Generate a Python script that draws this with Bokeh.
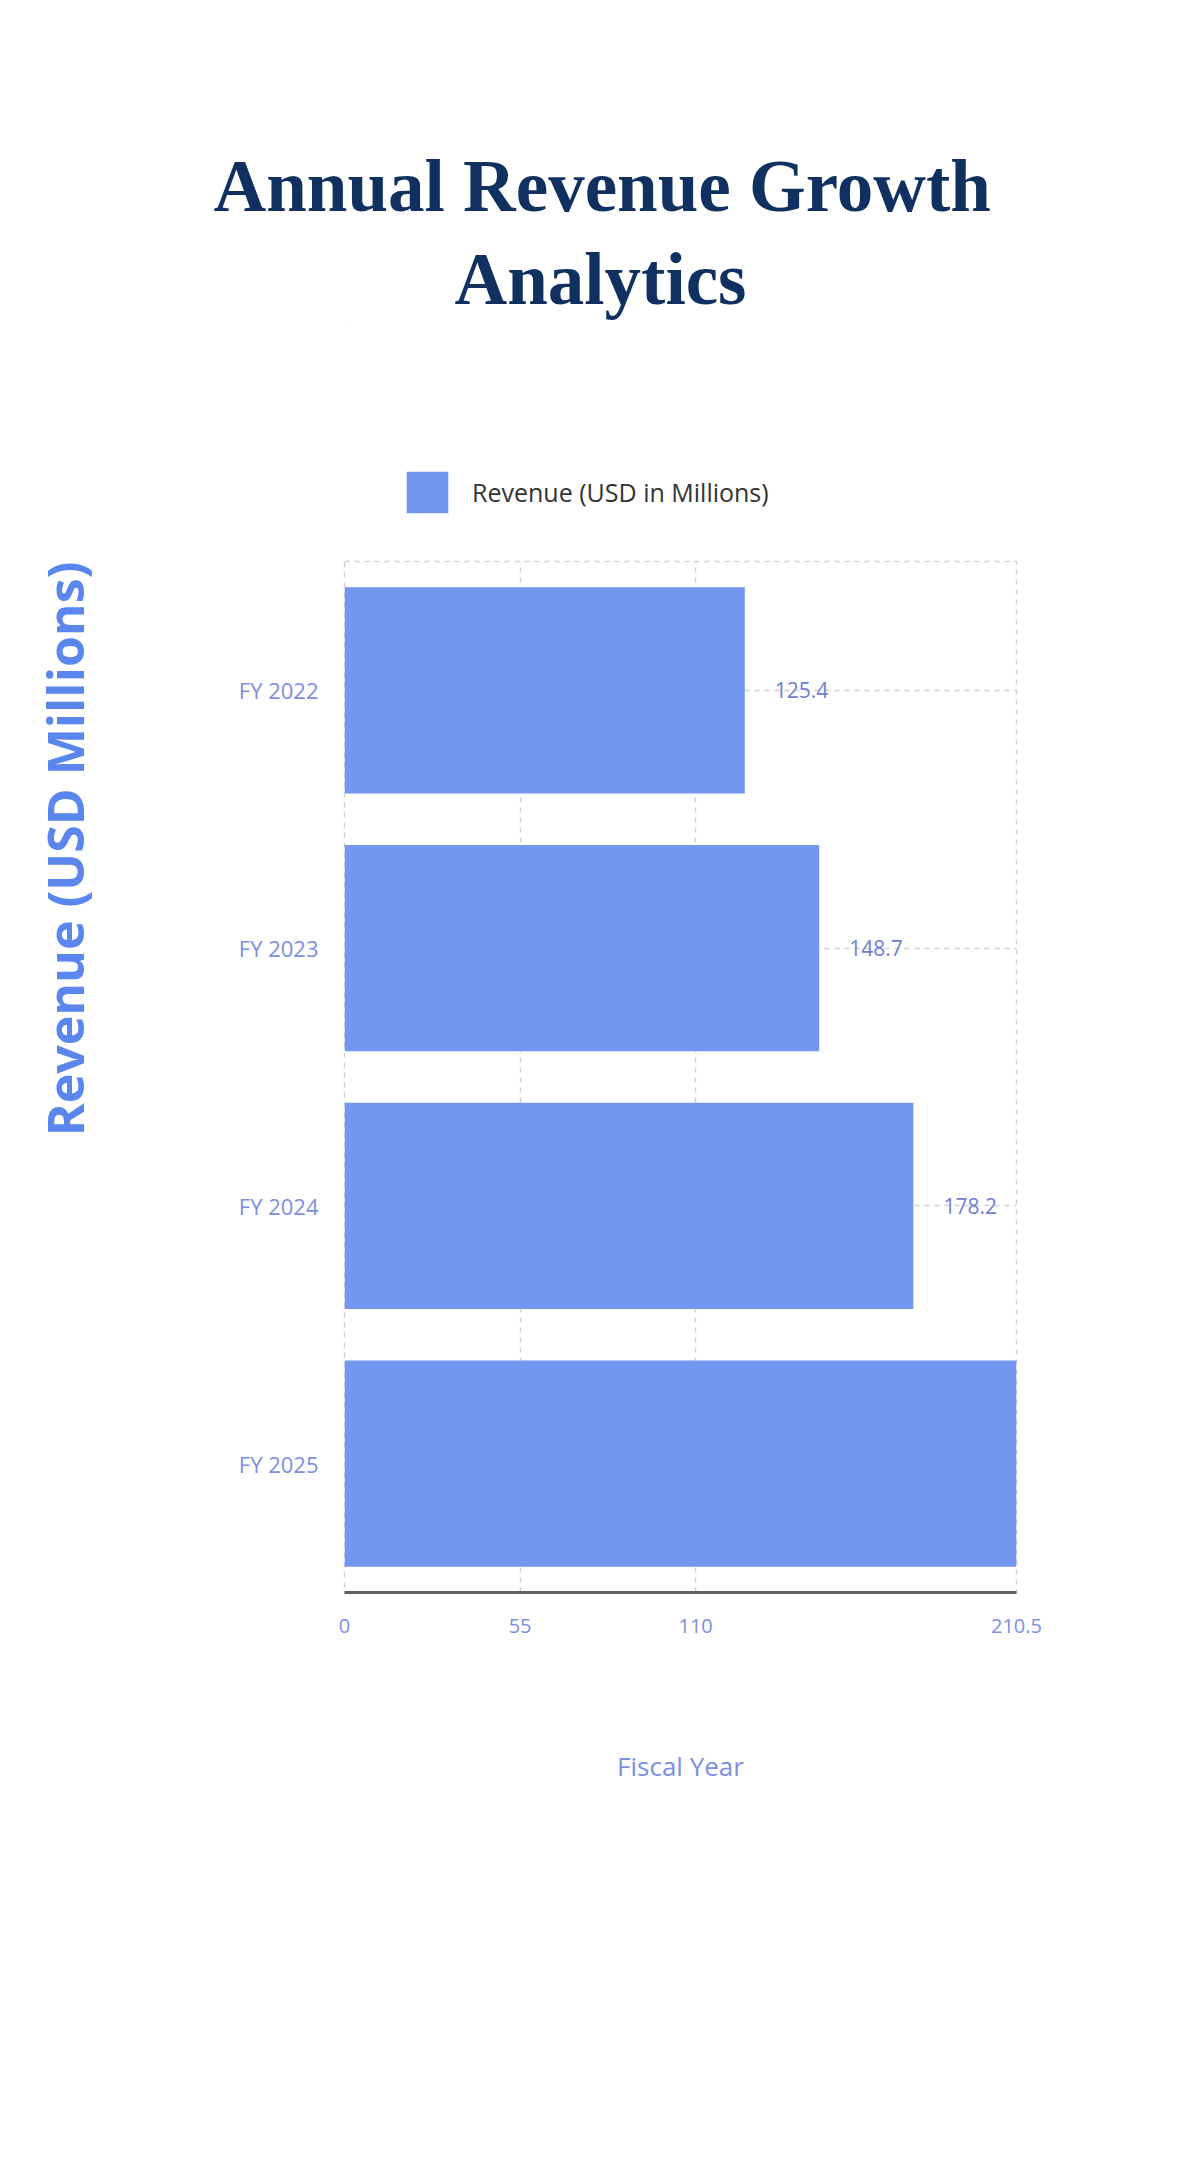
from bokeh.plotting import figure
from bokeh.models import (FactorRange, Range1d, Legend, LegendItem, FixedTicker,
                          ColumnDataSource, Title, Spacer)
from bokeh.core.properties import value
from bokeh.layouts import column, row
from bokeh.embed import file_html
from bokeh.resources import INLINE

# ---- data ----
categories = ["FY 2022", "FY 2023", "FY 2024", "FY 2025"]
revenue = [125.4, 148.7, 178.2, 210.5]
value_labels = ["125.4", "148.7", "178.2", "210.5"]
x_ticks = [0, 55, 110, 210.5]
x_max = 210.5
series_name = "Revenue (USD in Millions)"
title_lines = ["Annual Revenue Growth", "Analytics"]
y_title = "Revenue (USD Millions)"
x_title = "Fiscal Year"

BAR = "#7397ee"
TICK = "#7b8fe3"
VAL = "#6f80d4"
FONT = "Open Sans"
TITLE_C = "#10305f"

W = 1192
TOP_GAP = 138
HEAD_H = 419
LEFT_W = 110
MAIN_H = 1593

src = ColumnDataSource(dict(cat=categories, rev=revenue, lab=value_labels))

# ---------------- header: title + legend ----------------
head = figure(width=W, height=HEAD_H, x_range=Range1d(1, 2), y_range=Range1d(0, 1),
              x_axis_location=None, y_axis_location=None,
              output_backend="svg", toolbar_location=None,
              min_border_top=0, min_border_bottom=0,
              min_border_left=344, min_border_right=176, outline_line_color=None,
              background_fill_color="#ffffff", border_fill_color="#ffffff")
head.grid.grid_line_color = None

head.add_layout(Title(text=title_lines[1], align="left", offset=110,
                      text_font="Liberation Serif", text_font_style="bold",
                      text_font_size="73px", text_color=TITLE_C), "above")
head.add_layout(Title(text=title_lines[0], align="left", offset=-131,
                      text_font="Liberation Serif", text_font_style="bold",
                      text_font_size="73px", text_color=TITLE_C), "above")

# legend swatch proxy: zero-width bars outside the header's view
proxy = head.hbar(y="rev", left=0, right=0, height=1, source=src,
                  fill_color=BAR, line_color=None)
legend = Legend(items=[LegendItem(label=series_name, renderers=[proxy], index=0)],
                location=(57, 39), orientation="horizontal",
                glyph_width=52, glyph_height=52, padding=0, margin=0,
                label_text_font=FONT, label_text_font_size="25px",
                label_text_color="#333333", label_standoff=19,
                background_fill_alpha=0, border_line_color=None)
head.add_layout(legend, "center")

# ---------------- left strip: rotated y-axis title ----------------
side = figure(width=LEFT_W, height=MAIN_H, x_range=Range1d(0, LEFT_W), y_range=Range1d(0, 1),
              x_axis_location=None, y_axis_location=None,
              output_backend="svg", toolbar_location=None,
              min_border_left=0, min_border_right=0,
              min_border_top=4, min_border_bottom=558, outline_line_color=None,
              background_fill_color="#ffffff", border_fill_color="#ffffff")
side.grid.grid_line_color = None
side.text(x=[64], y=[1], text=[y_title], angle=1.5707963267948966,
          text_align="right", text_baseline="middle",
          text_font=value(FONT), text_font_style="bold",
          text_font_size="50px", text_color="#5a86ed")

# ---------------- main chart ----------------
p = figure(
    width=W - LEFT_W, height=MAIN_H,
    y_range=FactorRange(factors=list(reversed(categories)), range_padding=0),
    x_range=Range1d(0, x_max),
    output_backend="svg", toolbar_location=None,
    min_border_left=344 - LEFT_W, min_border_right=176,
    min_border_top=4, min_border_bottom=558,
    background_fill_color="#ffffff", border_fill_color="#ffffff",
)

bars = p.hbar(y="cat", right="rev", left=0, height=0.8, source=src,
              fill_color=BAR, line_color=None)

p.text(x="rev", y="cat", text="lab", source=src, x_offset=30,
       text_align="left", text_baseline="middle",
       text_font=value(FONT), text_font_size="21px", text_color=VAL)

# axes
p.xaxis.ticker = FixedTicker(ticks=x_ticks)
p.xaxis.major_label_overrides = {0: "0", 55: "55", 110: "110", 210.5: "210.5"}
p.xaxis.axis_line_color = "#5f5f5f"
p.xaxis.axis_line_width = 3
p.xaxis.major_tick_line_color = None
p.xaxis.minor_tick_line_color = None
p.xaxis.major_label_text_font = FONT
p.xaxis.major_label_text_font_size = "20px"
p.xaxis.major_label_text_color = TICK
p.xaxis.major_label_standoff = 20
p.xaxis.axis_label = x_title
p.xaxis.axis_label_text_font = FONT
p.xaxis.axis_label_text_font_size = "26px"
p.xaxis.axis_label_text_font_style = "normal"
p.xaxis.axis_label_text_color = TICK
p.xaxis.axis_label_standoff = 112

p.yaxis.axis_line_color = None
p.yaxis.major_tick_line_color = None
p.yaxis.minor_tick_line_color = None
p.yaxis.major_label_text_font = FONT
p.yaxis.major_label_text_font_size = "22px"
p.yaxis.major_label_text_color = TICK
p.yaxis.major_label_standoff = 20

# grid
for g in (p.xgrid, p.ygrid):
    g.grid_line_color = "#cfcfcf"
    g.grid_line_dash = "5 5"
    g.grid_line_width = 1.5
p.outline_line_color = "#cfcfcf"
p.outline_line_dash = "5 5"
p.outline_line_width = 1.5

layout = column(Spacer(width=W, height=TOP_GAP), head, row(side, p, spacing=0), spacing=0)
open("out.html", "w").write(file_html(layout, INLINE))
